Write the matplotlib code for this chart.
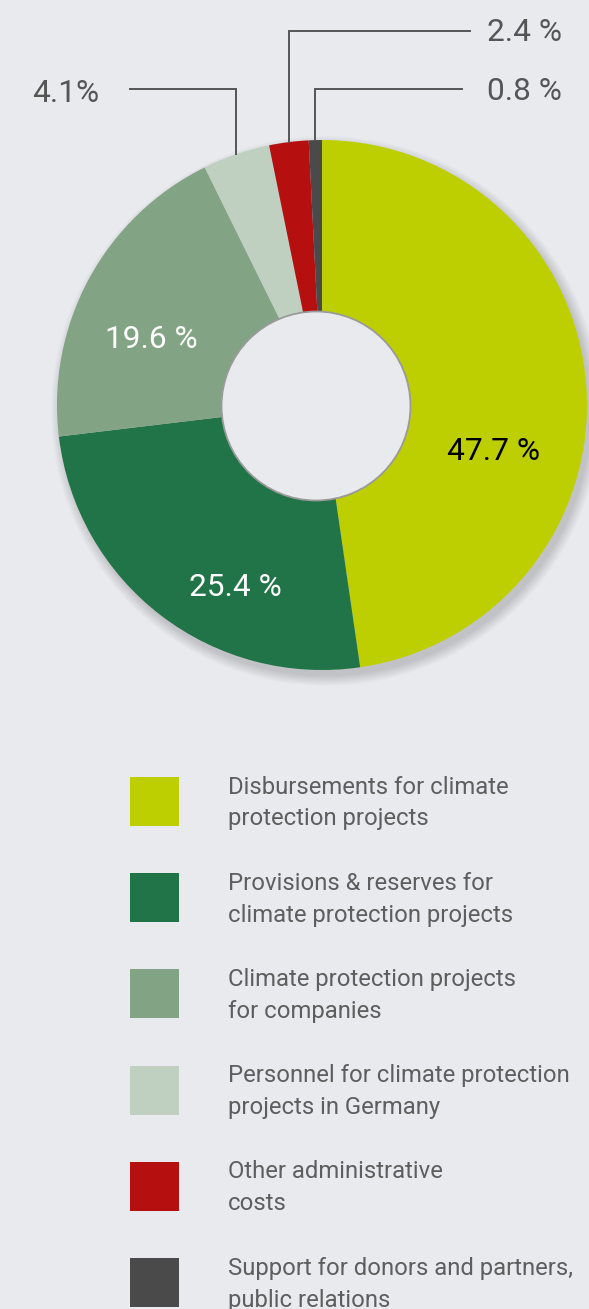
import numpy as np
import matplotlib
matplotlib.use("Agg")
import matplotlib.pyplot as plt
from matplotlib.patches import Circle, Rectangle

plt.rcParams['font.family'] = ['Roboto', 'DejaVu Sans']

# ---- data ----
values = [47.7, 25.4, 19.6, 4.1, 2.4, 0.8]
pct_labels = ["47.7 %", "25.4 %", "19.6 %", "4.1%", "2.4 %", "0.8 %"]
colors = ["#BDCF00", "#217447", "#82A484", "#C0D0C0", "#B5100F", "#4A4A4A"]
legend_labels = [
    "Disbursements for climate\nprotection projects",
    "Provisions & reserves for\nclimate protection projects",
    "Climate protection projects\nfor companies",
    "Personnel for climate protection\nprojects in Germany",
    "Other administrative\ncosts",
    "Support for donors and partners,\npublic relations",
]

W, H = 589, 1309
BG = "#E9EAEE"
fig = plt.figure(figsize=(W / 100, H / 100), dpi=100, facecolor=BG)
ax = fig.add_axes([0, 0, 1, 1])
ax.set_facecolor(BG)

def Y(y):  # image y -> axes y
    return H - y

cx, cy, R = 322, Y(405), 265

# soft shadow
for i in range(10):
    ax.add_patch(Circle((cx + 4, cy - 6), R + i * 1.1, facecolor="#000000",
                        alpha=0.014, edgecolor="none", zorder=1))

wedges, _ = ax.pie(values, colors=colors, startangle=90, counterclock=False,
                   center=(cx, cy), radius=R, wedgeprops=dict(linewidth=0))
for w in wedges:
    w.set_zorder(2)

# hole
ax.add_patch(Circle((316, Y(406)), 94.5, facecolor=BG, edgecolor="#9A9A9A",
                    linewidth=1.3, zorder=3))

FS = 22.8
# inner labels
inner = {0: (447, 460, "black"), 1: (189, 596, "white"), 2: (105, 348, "white")}
for idx, (x, yb, c) in inner.items():
    ax.text(x, Y(yb), pct_labels[idx], fontsize=FS, color=c, ha="left",
            va="baseline", zorder=5)

# outer labels with leader lines
cum = np.cumsum([0] + values)
mid = (cum[:-1] + cum[1:]) / 2 / 100 * 2 * np.pi
lead = {3: (89, 130, 32, 102), 4: (31, 470, 487, 41),
        5: (89, 462, 487, 100)}
lc = "#555555"
for idx, (yline, xend, tx, tb) in lead.items():
    a = mid[idx]
    px = cx + R * np.sin(a)
    py = cy + R * np.cos(a)
    ax.plot([px, px, xend], [py, Y(yline), Y(yline)], color=lc, lw=1.4,
            solid_joinstyle="miter", zorder=4)
    ax.text(tx, Y(tb), pct_labels[idx], fontsize=FS, color="#555555",
            ha="left", va="baseline", zorder=5)

# legend
for i, (lab, col) in enumerate(zip(legend_labels, colors)):
    top = 777 + i * 96.2
    ax.add_patch(Rectangle((130, Y(top + 49)), 49, 49, facecolor=col,
                           edgecolor="none", zorder=3))
    for j, line in enumerate(lab.split("\n")):
        ax.text(228, Y(top + 16.5 + j * 32), line, fontsize=17.2,
                color="#5E5E5E", ha="left", va="baseline", fontweight="normal",
                zorder=5)

ax.set_xlim(0, W)
ax.set_ylim(0, H)
ax.set_aspect("equal")
ax.axis("off")
fig.savefig("out.png", dpi=100, facecolor=BG)
